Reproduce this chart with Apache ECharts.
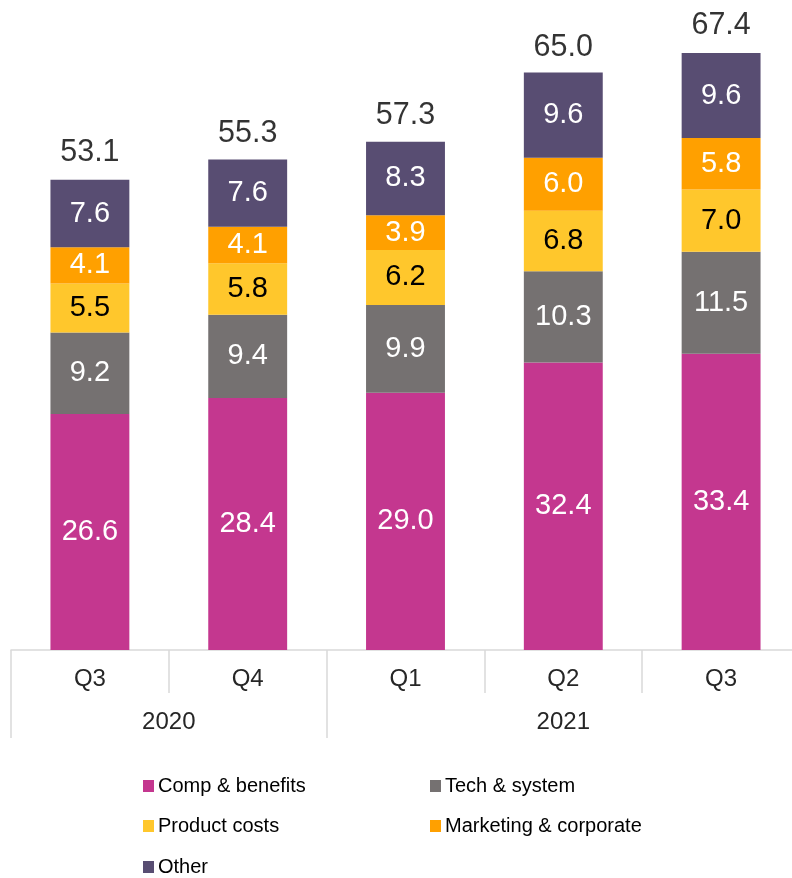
<!DOCTYPE html>
<html>
<head>
<meta charset="utf-8">
<script src="https://cdn.jsdelivr.net/npm/echarts@6/dist/echarts.min.js"></script>
<style>
  html, body { margin: 0; padding: 0; background: #fff; overflow: hidden; }
  #chart { width: 800px; height: 878px; }
</style>
</head>
<body>
<div id="chart"></div>
<script>
// Quarterly operating expenses by category, stacked
var quarters = ['Q3', 'Q4', 'Q1', 'Q2', 'Q3'];
var years = ['2020', '2020', '2021', '2021', '2021'];

var compBenefits = [26.6, 28.4, 29.0, 32.4, 33.4];
var techSystem = [9.2, 9.4, 9.9, 10.3, 11.5];
var productCosts = [5.5, 5.8, 6.2, 6.8, 7.0];
var marketingCorporate = [4.1, 4.1, 3.9, 6.0, 5.8];
var other = [7.6, 7.6, 8.3, 9.6, 9.6];
var totals = [53.1, 55.3, 57.3, 65.0, 67.4];

var seriesNames = ['Comp & benefits', 'Tech & system', 'Product costs', 'Marketing & corporate', 'Other'];
var seriesValues = [compBenefits, techSystem, productCosts, marketingCorporate, other];
var seriesColors = ['#C4378F', '#757171', '#FFC72C', '#FFA000', '#584D72'];
var labelColors = ['#ffffff', '#ffffff', '#000000', '#ffffff', '#ffffff'];

var FONT = '"Liberation Sans", Arial, sans-serif';

// Year band axis: points on half-quarter boundaries (0..2n)
var yearPoints = [];
for (var i = 0; i <= quarters.length * 2; i++) yearPoints.push('');
var yearTickPoints = {};
var yearLabelPoints = {};
(function () {
  var s = 0;
  for (var q = 1; q <= years.length; q++) {
    if (q === years.length || years[q] !== years[s]) {
      var center = s + q; // midpoint of [2s, 2q]
      yearPoints[center] = years[s];
      yearLabelPoints[center] = true;
      yearTickPoints[2 * s] = true;
      yearTickPoints[2 * q] = true;
      s = q;
    }
  }
})();

var series = seriesNames.map(function (name, k) {
  return {
    name: name,
    type: 'bar',
    stack: 'total',
    barWidth: '50%',
    itemStyle: { color: seriesColors[k] },
    label: {
      show: true,
      position: 'inside',
      color: labelColors[k],
      fontFamily: FONT,
      fontSize: 29,
      formatter: function (p) { return p.value.toFixed(1); }
    },
    emphasis: { disabled: true },
    data: seriesValues[k]
  };
});

series.push({
  name: 'Total',
  type: 'scatter',
  symbolSize: 1,
  itemStyle: { color: 'rgba(0,0,0,0)' },
  label: {
    show: true,
    position: 'top',
    distance: 10,
    color: '#000000',
    fontFamily: FONT,
    fontSize: 30.5,
    formatter: function (p) { return p.value.toFixed(1); }
  },
  emphasis: { disabled: true },
  data: totals
});

var legendSlots = [
  { left: 143, top: 775 },
  { left: 430, top: 775 },
  { left: 143, top: 815 },
  { left: 430, top: 815 },
  { left: 143, top: 856 }
];
var legends = seriesNames.map(function (name, k) {
  return {
    data: [name],
    left: legendSlots[k].left,
    top: legendSlots[k].top,
    padding: 0,
    icon: 'rect',
    itemWidth: 11,
    itemHeight: 12,
    selectedMode: false,
    textStyle: { fontFamily: FONT, fontSize: 20, lineHeight: 22, color: '#000000', padding: [0, 0, 0, -1] }
  };
});

var chart = echarts.init(document.getElementById('chart'), null, { renderer: 'canvas' });
chart.setOption({
  animation: false,
  backgroundColor: '#ffffff',
  grid: { left: 11, top: 29, right: 0, height: 621, containLabel: false },
  legend: legends,
  xAxis: [
    {
      type: 'category',
      data: quarters,
      position: 'bottom',
      axisLine: { show: true, lineStyle: { color: '#D9D9D9', width: 1.5 } },
      axisTick: { show: true, interval: 0, length: 43, lineStyle: { color: '#D9D9D9', width: 1.5 } },
      axisLabel: { interval: 0, margin: 17, fontFamily: FONT, fontSize: 24, color: '#262626' }
    },
    {
      type: 'category',
      data: yearPoints,
      boundaryGap: false,
      position: 'bottom',
      offset: 43,
      axisLine: { show: false },
      axisTick: {
        show: true,
        length: 45,
        interval: function (idx) { return !!yearTickPoints[idx]; },
        lineStyle: { color: '#D9D9D9', width: 1.5 }
      },
      axisLabel: {
        margin: 17,
        interval: function (idx) { return !!yearLabelPoints[idx]; },
        fontFamily: FONT,
        fontSize: 24,
        color: '#262626'
      }
    }
  ],
  yAxis: {
    type: 'value',
    min: 0,
    max: 70,
    show: false,
    splitLine: { show: false }
  },
  series: series
});
</script>
</body>
</html>
